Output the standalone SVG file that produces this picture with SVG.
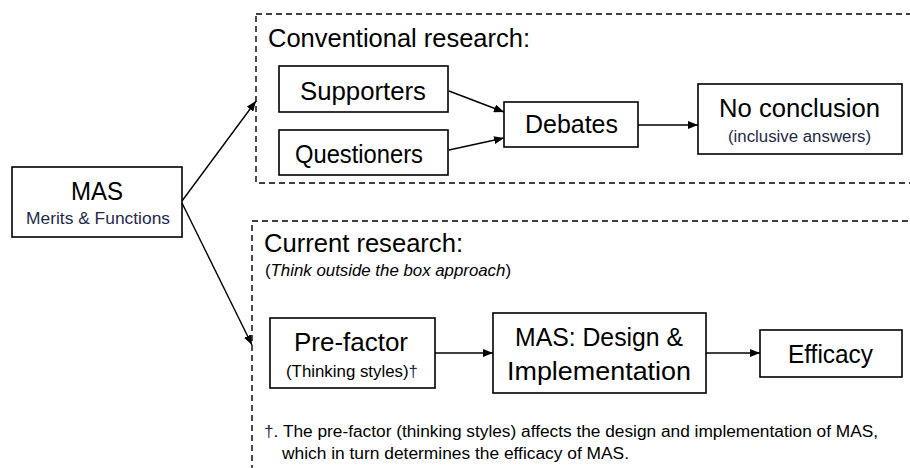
<svg xmlns="http://www.w3.org/2000/svg" width="910" height="468" viewBox="0 0 910 468">
<style>
text{font-family:"Liberation Sans",Arial,sans-serif;fill:#000}
.box{fill:#fff;stroke:#000;stroke-width:1.6}
.dash{fill:none;stroke:#000;stroke-width:1.4;stroke-dasharray:6 4}
.con{fill:none;stroke:#000;stroke-width:1.4;marker-end:url(#ah)}
.navy{fill:#1f2a4a}
.big{font-size:25px}
.sm{font-size:16px}
</style>
<defs>
<marker id="ah" viewBox="0 0 10 8" refX="10" refY="4" markerWidth="10" markerHeight="8" markerUnits="userSpaceOnUse" orient="auto">
<path d="M0,0 L10,4 L0,8 Z" fill="#000"/>
</marker>
</defs>
<rect width="910" height="468" fill="#fff"/>
<g id="conventional">
<rect class="dash" x="256" y="14" width="700" height="169"/>
<text class="big" x="268" y="47" textLength="262" lengthAdjust="spacingAndGlyphs">Conventional research:</text>
</g>
<g id="current">
<rect class="dash" x="252" y="221" width="700" height="300"/>
<text class="big" x="264" y="252" textLength="199" lengthAdjust="spacingAndGlyphs">Current research:</text>
<text class="sm" x="265" y="276" textLength="246" lengthAdjust="spacingAndGlyphs">(<tspan font-style="italic">Think outside the box approach</tspan>)</text>
</g>
<g id="mas">
<rect class="box" x="12" y="167" width="170" height="70"/>
<text class="big" x="71" y="200" textLength="52" lengthAdjust="spacingAndGlyphs">MAS</text>
<text class="sm navy" x="26" y="224" textLength="144" lengthAdjust="spacingAndGlyphs">Merits &amp; Functions</text>
</g>
<g id="supporters">
<rect class="box" x="279" y="66" width="169" height="46"/>
<text class="big" x="300" y="100" textLength="126" lengthAdjust="spacingAndGlyphs">Supporters</text>
</g>
<g id="questioners">
<rect class="box" x="279" y="130" width="169" height="45"/>
<text class="big" x="295" y="163" textLength="128" lengthAdjust="spacingAndGlyphs">Questioners</text>
</g>
<g id="debates">
<rect class="box" x="504" y="102" width="134" height="45"/>
<text class="big" x="525" y="133" textLength="93" lengthAdjust="spacingAndGlyphs">Debates</text>
</g>
<g id="noconclusion">
<rect class="box" x="698" y="84" width="204" height="70"/>
<text class="big" x="719" y="117" textLength="161" lengthAdjust="spacingAndGlyphs">No conclusion</text>
<text class="sm navy" x="728" y="142" textLength="143" lengthAdjust="spacingAndGlyphs">(inclusive answers)</text>
</g>
<g id="prefactor">
<rect class="box" x="270" y="318" width="165" height="70"/>
<text class="big" x="294" y="351" textLength="114" lengthAdjust="spacingAndGlyphs">Pre-factor</text>
<text class="sm" x="286" y="377" textLength="132" lengthAdjust="spacingAndGlyphs">(Thinking styles)<tspan class="navy">†</tspan></text>
</g>
<g id="design">
<rect class="box" x="493" y="313" width="213" height="80"/>
<text class="big" x="515" y="346" textLength="168" lengthAdjust="spacingAndGlyphs">MAS: Design &amp;</text>
<text class="big" x="507" y="380" textLength="184" lengthAdjust="spacingAndGlyphs">Implementation</text>
</g>
<g id="efficacy">
<rect class="box" x="760" y="330" width="142" height="47"/>
<text class="big" x="788" y="363" textLength="85" lengthAdjust="spacingAndGlyphs">Efficacy</text>
</g>
<g id="footnote">
<text class="sm" x="264" y="437" textLength="614" lengthAdjust="spacingAndGlyphs"><tspan class="navy">†</tspan>. The pre-factor (thinking styles) affects the design and implementation of MAS,</text>
<text class="sm" x="282" y="459" textLength="347" lengthAdjust="spacingAndGlyphs">which in turn determines the efficacy of MAS.</text>
</g>
<g id="connectors">
<line class="con" x1="182" y1="201" x2="256" y2="101"/>
<line class="con" x1="182" y1="203" x2="252" y2="345"/>
<line class="con" x1="449" y1="91" x2="504" y2="112"/>
<line class="con" x1="449" y1="150" x2="504" y2="138"/>
<line class="con" x1="638" y1="125" x2="698" y2="125"/>
<line class="con" x1="435" y1="353" x2="493" y2="353"/>
<line class="con" x1="706" y1="353" x2="760" y2="353"/>
</g>
</svg>
